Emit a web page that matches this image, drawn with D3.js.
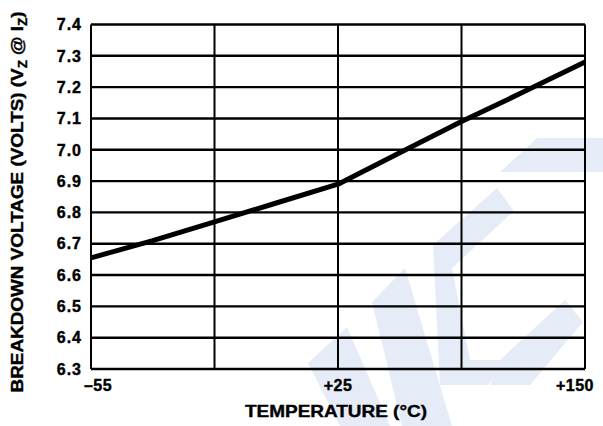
<!DOCTYPE html>
<html>
<head>
  <meta charset="utf-8">
  <style>
    body { margin: 0; background: #fff; }
    svg { display: block; }
    text { font-family: "Liberation Sans", Arial, sans-serif; font-weight: bold; fill: #000; stroke: #000; stroke-width: 0.4px; }
    .grid line { stroke: #000; }
    .tick-label { font-size: 16px; }
  </style>
</head>
<body>
  <script src="https://d3js.org/d3.v7.min.js"></script>
  <svg width="603" height="426"></svg>

  <script>
    // curve
    var temps = [-55, -35, -15, 5, 25, 56, 87.5, 119, 150];
    var volts = [6.655, 6.71, 6.77, 6.83, 6.89, 6.99, 7.09, 7.185, 7.28];

    // grid / tick values
    var xGrid = [-55, -15, 25, 87.5, 150];
    var xLabels = [-55, 25, 150];
    var yTicks = [6.3, 6.4, 6.5, 6.6, 6.7, 6.8, 6.9, 7.0, 7.1, 7.2, 7.3, 7.4];

    var svg = d3.select("svg"),
        margin = {top: 24.5, right: 18, bottom: 57, left: 91},
        width = +svg.attr("width") - margin.left - margin.right,
        height = +svg.attr("height") - margin.top - margin.bottom;

    /* faint watermark behind the chart */
    var wm = [
      [[308,363],[347,327],[390,426],[340,426]],
      [[372,302],[405,268],[452,426],[402,426]],
      [[433,245],[497,188],[514,211],[452,268],[470,360],[508,360],[488,385],[440,385]],
      [[500,172],[537,138],[603,138],[603,172]],
      [[500,360],[565,300],[583,322],[530,385],[490,385]]
    ];
    svg.append("g").selectAll("polygon")
      .data(wm)
      .enter().append("polygon")
      .attr("points", function(d) { return d.join(" "); })
      .attr("fill", "#e6ecf7");

    // the x axis is split: -55..25 on the left half, 25..150 on the right half
    var x = d3.scaleLinear().domain([-55, 25, 150]).range([0, width / 2, width]),
        y = d3.scaleLinear().domain([6.3, 7.4]).range([height, 0]);

    var g = svg.append("g")
        .attr("transform", "translate(" + margin.left + "," + margin.top + ")");

    /* grid lines */
    var grid = g.append("g").attr("class", "grid");
    grid.selectAll(".h")
      .data(yTicks)
      .enter().append("line")
      .attr("class", "h")
      .attr("x1", 0).attr("x2", width)
      .attr("y1", function(d) { return y(d); })
      .attr("y2", function(d) { return y(d); })
      .attr("stroke-width", 2.4);
    grid.selectAll(".v")
      .data(xGrid)
      .enter().append("line")
      .attr("class", "v")
      .attr("y1", 0).attr("y2", height)
      .attr("x1", function(d) { return x(d); })
      .attr("x2", function(d) { return x(d); })
      .attr("stroke-width", 2);

    /* y tick labels */
    g.selectAll(".ylab")
      .data(yTicks)
      .enter().append("text")
      .attr("class", "tick-label")
      .attr("x", -9)
      .attr("y", function(d) { return y(d); })
      .attr("dy", "0.36em")
      .attr("text-anchor", "end")
      .attr("letter-spacing", "1px")
      .text(function(d) { return d.toFixed(1); });

    /* x tick labels */
    var xFmt = function(d) { return d < 0 ? "\u2013" + (-d) : "+" + d; };
    var xShift = {"-55": 7, "25": 0, "150": -10};
    g.selectAll(".xlab")
      .data(xLabels)
      .enter().append("text")
      .attr("class", "tick-label")
      .attr("x", function(d) { return x(d) + xShift[d]; })
      .attr("y", height + 22)
      .attr("text-anchor", "middle")
      .attr("letter-spacing", "0.5px")
      .text(xFmt);

    /* the curve */
    var line = d3.line()
      .x(function(d, i) { return x(temps[i]); })
      .y(function(d) { return y(d); });
    g.append("path")
      .datum(volts)
      .attr("fill", "none")
      .attr("stroke", "#000")
      .attr("stroke-width", 5)
      .attr("stroke-linejoin", "round")
      .attr("d", line);

    /* axis titles */
    svg.append("text")
      .attr("x", 336)
      .attr("y", 417)
      .attr("text-anchor", "middle")
      .attr("font-size", 17)
      .attr("textLength", 182)
      .attr("lengthAdjust", "spacingAndGlyphs")
      .text("TEMPERATURE (\u00b0C)");

    var yt = svg.append("text")
      .attr("transform", "translate(23,202) rotate(-90)")
      .attr("text-anchor", "middle")
      .attr("font-size", 17)
      .attr("textLength", 381)
      .attr("lengthAdjust", "spacingAndGlyphs");
    yt.append("tspan").text("BREAKDOWN VOLTAGE (VOLTS) (V");
    yt.append("tspan").attr("font-size", 12).attr("dy", 4).text("Z");
    yt.append("tspan").attr("dy", -4).text(" @ I");
    yt.append("tspan").attr("font-size", 12).attr("dy", 4).text("Z");
    yt.append("tspan").attr("dy", -4).text(")");
  </script>
</body>
</html>
